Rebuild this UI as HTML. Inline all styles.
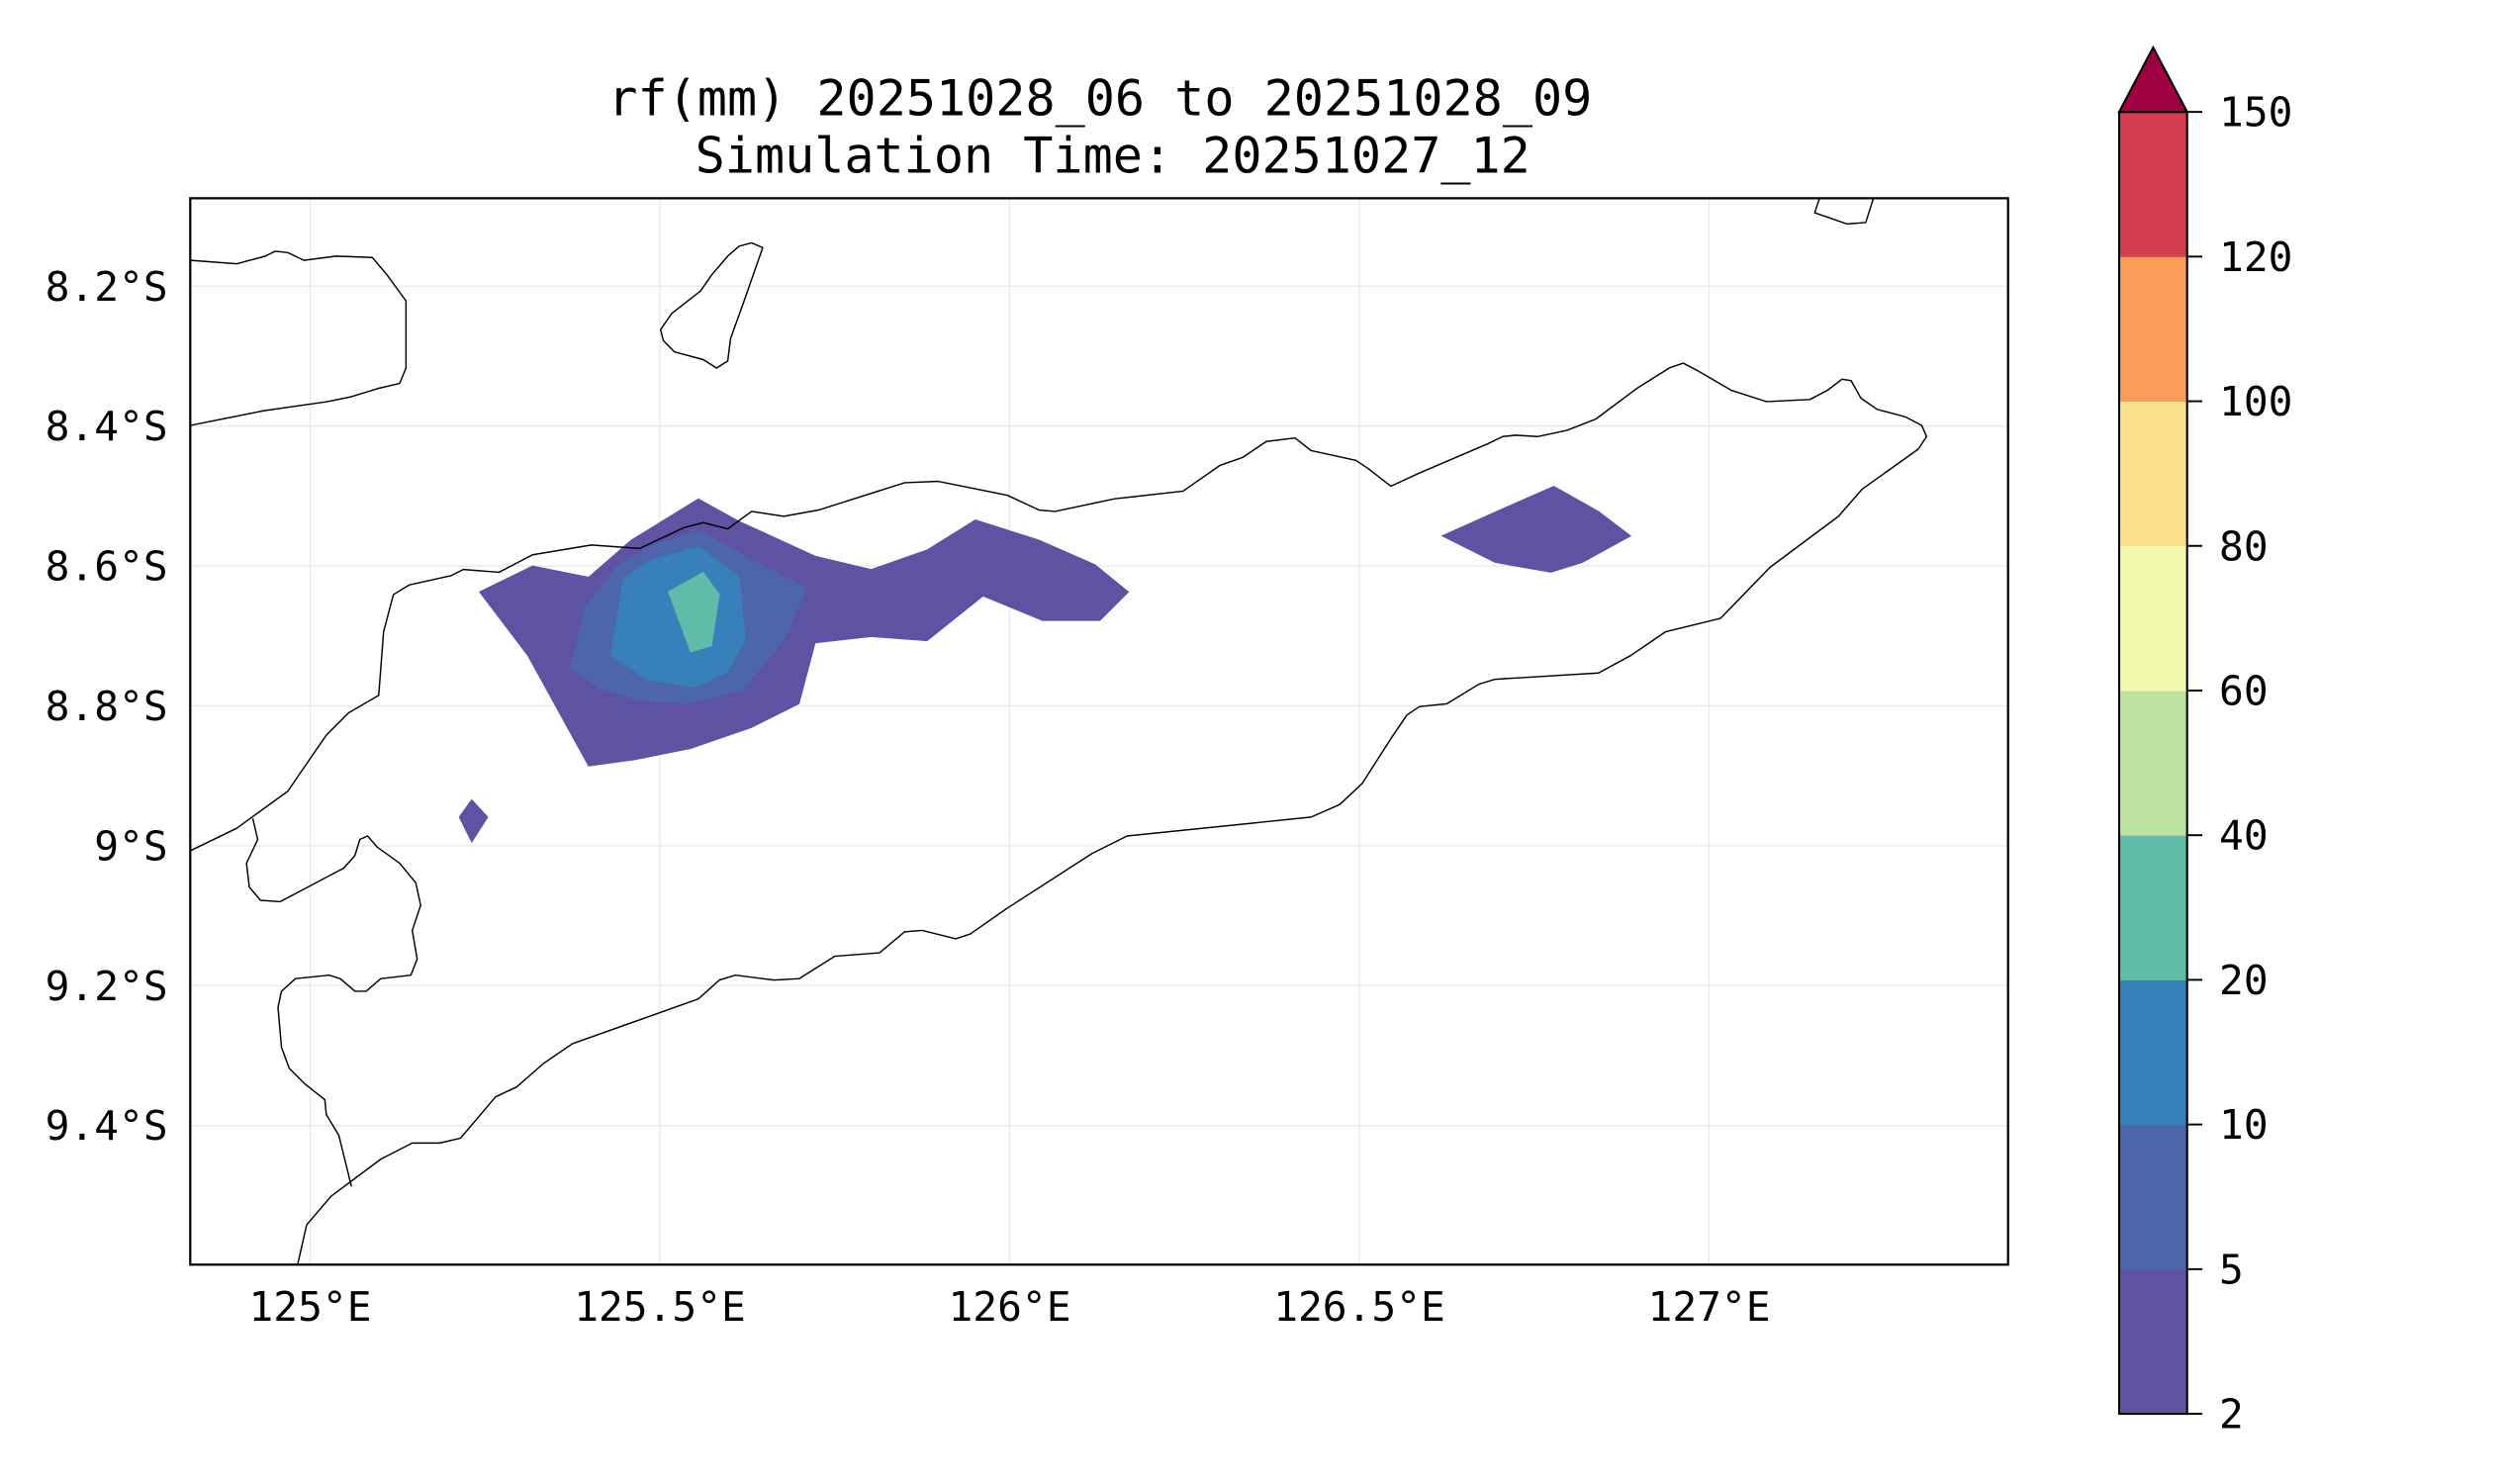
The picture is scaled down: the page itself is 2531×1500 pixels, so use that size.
<!DOCTYPE html>
<html><head><meta charset="utf-8"><style>
html,body{margin:0;padding:0;background:#fff;}
svg{display:block;}
text{font-family:"DejaVu Sans Mono","Liberation Mono",monospace;fill:#000;}
</style></head><body>
<svg id="fig" width="2531" height="1500" viewBox="0 0 1566.2 928.2" xmlns="http://www.w3.org/2000/svg">
<defs><clipPath id="mapclip"><rect x="119" y="124" width="1137" height="667"/></clipPath></defs>
<text x="688" y="72" font-size="31" text-anchor="middle">rf(mm) 20251028_06 to 20251028_09</text>
<text x="696" y="108" font-size="31" text-anchor="middle">Simulation Time: 20251027_12</text>
<g id="grid"></g>
<g id="contours" clip-path="url(#mapclip)"></g>
<g id="coast" clip-path="url(#mapclip)"></g>
<rect x="119" y="124" width="1137" height="667" fill="none" stroke="#000" stroke-width="1.4"/>
<g id="xticks"></g>
<g id="yticks"></g>
<g id="cbar"></g>
</svg>
<script>
// ---- data ----
const lonTicks = [125, 125.5, 126, 126.5, 127];
const lonTickLabels = ["125°E", "125.5°E", "126°E", "126.5°E", "127°E"];
const latTicks = [-8.2, -8.4, -8.6, -8.8, -9.0, -9.2, -9.4];
const latTickLabels = ["8.2°S", "8.4°S", "8.6°S", "8.8°S", "9°S", "9.2°S", "9.4°S"];
const levels = [2, 5, 10, 20, 40, 60, 80, 100, 120, 150];
const levelColors = ["#5e52a3", "#4c65ad", "#3780b9", "#60bba8", "#bde3a0", "#f3f9ae", "#fce08b", "#fa9c5a", "#d53e4f"];
const extendColor = "#9e0142";
// contour polygons: level index + [lon,lat] vertices
const contourLevels = [0, 0, 0, 1, 2, 3];
const contourPolys = [
 [[125.242,-8.637],[125.318,-8.600],[125.398,-8.616],[125.459,-8.563],[125.555,-8.504],[125.613,-8.536],[125.722,-8.586],[125.802,-8.605],[125.882,-8.577],[125.951,-8.534],[126.042,-8.563],[126.122,-8.598],[126.170,-8.637],[126.129,-8.678],[126.047,-8.678],[125.962,-8.643],[125.882,-8.707],[125.802,-8.701],[125.722,-8.710],[125.699,-8.797],[125.631,-8.831],[125.544,-8.861],[125.464,-8.877],[125.398,-8.886],[125.311,-8.728]],
 [[126.618,-8.557],[126.705,-8.518],[126.778,-8.486],[126.842,-8.522],[126.888,-8.557],[126.819,-8.595],[126.774,-8.609],[126.694,-8.595]],
 [[125.213,-8.959],[125.231,-8.934],[125.254,-8.959],[125.231,-8.995]],
 [[125.373,-8.746],[125.393,-8.659],[125.437,-8.602],[125.494,-8.568],[125.558,-8.550],[125.631,-8.591],[125.711,-8.632],[125.677,-8.705],[125.619,-8.778],[125.539,-8.797],[125.471,-8.792],[125.414,-8.774]],
 [[125.430,-8.728],[125.448,-8.618],[125.489,-8.591],[125.555,-8.573],[125.613,-8.614],[125.622,-8.705],[125.597,-8.751],[125.551,-8.774],[125.482,-8.762]],
 [[125.512,-8.637],[125.562,-8.609],[125.585,-8.641],[125.574,-8.714],[125.544,-8.723]]
];
const coastLines = [
 [[124.829,-9.007],[124.895,-8.975],[124.968,-8.922],[125.023,-8.842],[125.055,-8.810],[125.098,-8.785],[125.105,-8.694],[125.119,-8.641],[125.142,-8.627],[125.201,-8.614],[125.219,-8.605],[125.270,-8.609],[125.318,-8.584],[125.402,-8.570],[125.471,-8.575],[125.535,-8.545],[125.562,-8.538],[125.597,-8.547],[125.631,-8.522],[125.677,-8.529],[125.727,-8.520],[125.850,-8.481],[125.898,-8.479],[125.997,-8.499],[126.042,-8.520],[126.065,-8.522],[126.150,-8.504],[126.248,-8.493],[126.301,-8.456],[126.333,-8.445],[126.367,-8.422],[126.408,-8.417],[126.431,-8.435],[126.495,-8.449],[126.513,-8.461],[126.545,-8.486],[126.586,-8.467],[126.682,-8.426],[126.705,-8.415],[126.723,-8.413],[126.755,-8.415],[126.797,-8.406],[126.838,-8.390],[126.897,-8.346],[126.943,-8.317],[126.963,-8.310],[126.984,-8.321],[127.032,-8.349],[127.082,-8.365],[127.144,-8.362],[127.169,-8.349],[127.190,-8.333],[127.203,-8.335],[127.217,-8.360],[127.240,-8.376],[127.281,-8.387],[127.304,-8.399],[127.311,-8.415],[127.299,-8.433],[127.219,-8.490],[127.185,-8.529],[127.087,-8.602],[127.025,-8.666],[127.016,-8.675],[126.938,-8.694],[126.888,-8.728],[126.842,-8.753],[126.694,-8.762],[126.671,-8.769],[126.625,-8.797],[126.586,-8.801],[126.568,-8.813],[126.545,-8.847],[126.504,-8.911],[126.472,-8.941],[126.431,-8.959],[126.168,-8.986],[126.118,-9.011],[125.997,-9.089],[125.944,-9.126],[125.923,-9.133],[125.875,-9.121],[125.850,-9.123],[125.814,-9.153],[125.750,-9.158],[125.699,-9.190],[125.663,-9.192],[125.608,-9.185],[125.585,-9.192],[125.555,-9.219],[125.375,-9.283],[125.334,-9.311],[125.295,-9.345],[125.265,-9.359],[125.238,-9.391],[125.215,-9.418],[125.185,-9.425],[125.146,-9.425],[125.101,-9.448],[125.030,-9.501],[124.995,-9.542],[124.982,-9.599]],
 [[124.918,-8.961],[124.925,-8.991],[124.909,-9.025],[124.913,-9.059],[124.929,-9.078],[124.957,-9.080],[124.991,-9.062],[125.048,-9.032],[125.064,-9.014],[125.071,-8.991],[125.082,-8.986],[125.096,-9.002],[125.128,-9.025],[125.151,-9.053],[125.158,-9.085],[125.146,-9.121],[125.153,-9.162],[125.144,-9.185],[125.101,-9.190],[125.080,-9.208],[125.064,-9.208],[125.043,-9.190],[125.027,-9.185],[124.979,-9.190],[124.959,-9.208],[124.954,-9.231],[124.959,-9.288],[124.970,-9.318],[124.993,-9.341],[125.021,-9.363],[125.023,-9.384],[125.041,-9.414],[125.059,-9.487]],
 [[124.829,-8.163],[124.895,-8.168],[124.936,-8.157],[124.950,-8.150],[124.968,-8.152],[124.991,-8.163],[125.037,-8.157],[125.089,-8.159],[125.110,-8.184],[125.137,-8.221],[125.137,-8.317],[125.128,-8.339],[125.098,-8.346],[125.059,-8.358],[125.025,-8.365],[124.934,-8.378],[124.829,-8.399]],
 [[125.631,-8.138],[125.647,-8.145],[125.619,-8.225],[125.601,-8.275],[125.597,-8.307],[125.581,-8.317],[125.562,-8.305],[125.521,-8.294],[125.505,-8.278],[125.501,-8.262],[125.517,-8.239],[125.558,-8.207],[125.574,-8.184],[125.597,-8.157],[125.613,-8.143],[125.631,-8.138]],
 [[127.158,-8.074],[127.151,-8.095],[127.197,-8.111],[127.224,-8.109],[127.235,-8.074]]
];
// ---- axes ----
const PX = 437.5;
function xOf(lon){ return 194 + (lon - 125) * PX; }
function yOf(lat){ return 179 + (-8.2 - lat) * PX; }
const CB_TOP = 70, CB_BOT = 884.3, CB_L = 1325.5, CB_R = 1368;
function cbY(i){ return CB_BOT - i * (CB_BOT - CB_TOP) / (levels.length - 1); }
const NS = "http://www.w3.org/2000/svg";
function mk(tag, attrs, parent){ const e = document.createElementNS(NS, tag); for (const k in attrs) e.setAttribute(k, attrs[k]); parent.appendChild(e); return e; }
const grid = document.getElementById('grid');
lonTicks.forEach((lon) => {
  const l = mk('line', {x1: xOf(lon), x2: xOf(lon), y1: 124, y2: 791, stroke: '#e8e8e8', 'stroke-width': 0.8}, grid);
  
  
});
latTicks.forEach((lat) => {
  const l = mk('line', {x1: 119, x2: 1256, y1: yOf(lat), y2: yOf(lat), stroke: '#e8e8e8', 'stroke-width': 0.8}, grid);
  
  
});
const cg = document.getElementById('contours');
contourPolys.forEach((poly, i) => {
  const p = mk('polygon', {points: poly.map(v => xOf(v[0]) + ',' + yOf(v[1])).join(' '), fill: levelColors[contourLevels[i]], stroke: levelColors[contourLevels[i]], 'stroke-width': 0.5}, cg);
  
  
});
const coast = document.getElementById('coast');
coastLines.forEach((line) => {
  const p = mk('polyline', {points: line.map(v => xOf(v[0]) + ',' + yOf(v[1])).join(' '), fill: 'none', stroke: '#000', 'stroke-width': 0.9, 'stroke-linejoin': 'round'}, coast);
  
  
});
const xt = document.getElementById('xticks');
lonTicks.forEach((lon, i) => {
  const t = mk('text', {x: xOf(lon), y: 826, 'font-size': 25.5, 'text-anchor': 'middle'}, xt);
  t.textContent = lonTickLabels[i];
  
  
});
const yt = document.getElementById('yticks');
latTicks.forEach((lat, i) => {
  const t = mk('text', {x: 105, y: yOf(lat) + 9, 'font-size': 25.5, 'text-anchor': 'end'}, yt);
  t.textContent = latTickLabels[i];
  
  
});
const cb = document.getElementById('cbar');
levelColors.forEach((c, i) => {
  const r = mk('rect', {x: CB_L, y: cbY(i + 1), width: CB_R - CB_L, height: cbY(i) - cbY(i + 1) + 0.3, fill: c}, cb);
  
  
});
const tri = mk('polygon', {points: CB_L + ',' + CB_TOP + ' ' + ((CB_L + CB_R) / 2) + ',29.7 ' + CB_R + ',' + CB_TOP, fill: extendColor, stroke: '#000', 'stroke-width': 1.3, 'stroke-linejoin': 'miter'}, cb);


const ob = mk('rect', {x: CB_L, y: CB_TOP, width: CB_R - CB_L, height: CB_BOT - CB_TOP, fill: 'none', stroke: '#000', 'stroke-width': 1.3}, cb);


levels.forEach((lv, i) => {
  const tk = mk('line', {x1: CB_R, x2: CB_R + 9.5, y1: cbY(i), y2: cbY(i), stroke: '#000', 'stroke-width': 1.2}, cb);
  
  
  const t = mk('text', {x: 1388, y: cbY(i) + 9, 'font-size': 25.5}, cb);
  t.textContent = String(lv);
  
  
});
</script>
</body></html>
